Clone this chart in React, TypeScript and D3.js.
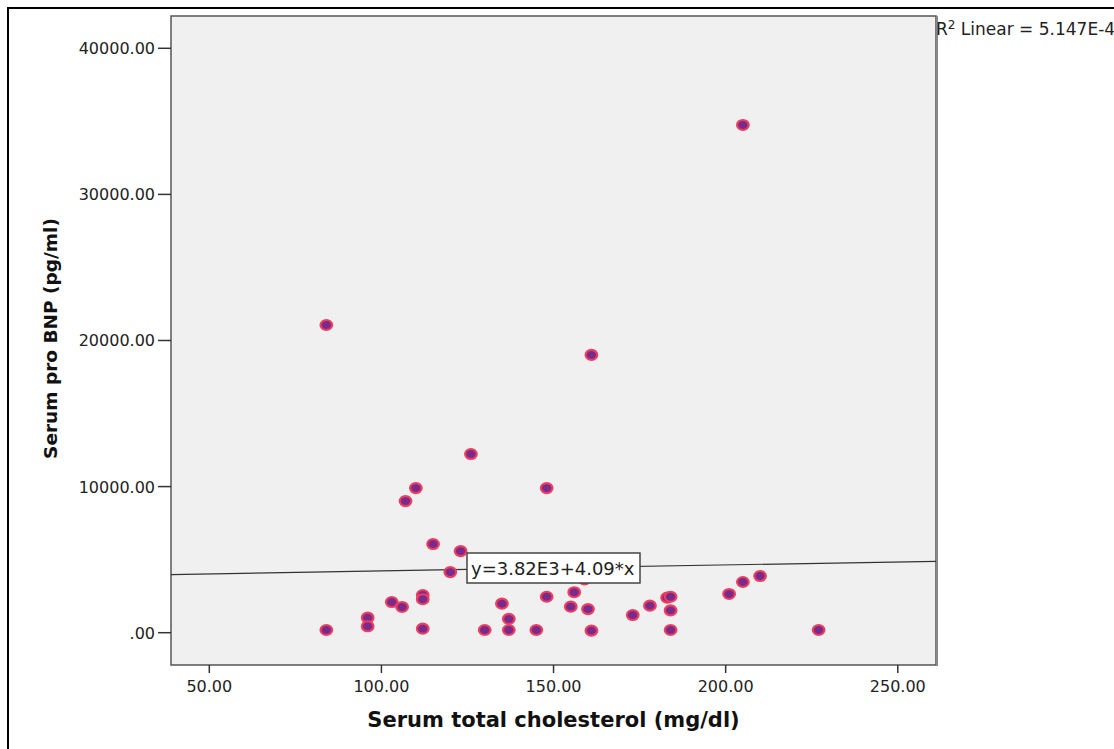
import React from "react";
import * as d3 from "d3";

const cholesterol = [205, 84, 161, 126, 110, 148, 107, 115, 123, 120, 103, 106, 112, 112, 96, 96, 84, 112, 135, 137, 130, 137, 145, 148, 156, 159, 155, 160, 161, 173, 178, 183, 184, 184, 184, 201, 205, 210, 227];
const proBNP = [34750, 21060, 19010, 12230, 9900, 9900, 9010, 6070, 5590, 4150, 2100, 1760, 2580, 2290, 1030, 440, 185, 275, 1985, 940, 185, 185, 185, 2460, 2770, 3650, 1780, 1620, 140, 1210, 1850, 2400, 2460, 1530, 185, 2650, 3470, 3880, 185];
const xTicks = [50, 100, 150, 200, 250];
const yTicks = [0, 10000, 20000, 30000, 40000];
const intercept = 3820;
const slope = 4.09;
const equationLabel = "y=3.82E3+4.09*x";
const xTitle = "Serum total cholesterol (mg/dl)";
const yTitle = "Serum pro BNP (pg/ml)";

const W = 1114, H = 749;
const L = 171, R = 936, T = 16, B = 665;

const fmt = (v: number) => (v === 0 ? ".00" : v.toFixed(2));

export default function App() {
  const x = d3.scaleLinear().domain([38.87, 261.1]).range([L, R]);
  const y = d3.scaleLinear().domain([-2211, 42210]).range([B, T]);
  const [x0, x1] = x.domain();
  const lineGen = d3.line<number>().x((d) => x(d)).y((d) => y(intercept + slope * d));
  const font = "'DejaVu Sans', sans-serif";
  return (
    <svg width={W} height={H} style={{ position: "absolute", left: 0, top: 0, background: "#fff" }}>
      <rect x={8} y={8} width={1300} height={900} fill="#fff" stroke="#000" strokeWidth={2} />
      <rect x={L} y={T} width={R - L} height={B - T} fill="#f0f0f0" stroke="#555" strokeWidth={1.5} />
      <line x1={R + 1} x2={R + 1} y1={T} y2={B + 1} stroke="#888" strokeWidth={2} />
      {yTicks.map((t) => (
        <g key={"y" + t}>
          <line x1={L - 13} x2={L} y1={y(t)} y2={y(t)} stroke="#333" strokeWidth={1.5} />
          <text x={155} y={y(t) + 6} textAnchor="end" fontFamily={font} fontSize={16} fill="#222">
            {fmt(t)}
          </text>
        </g>
      ))}
      {xTicks.map((t) => (
        <g key={"x" + t}>
          <line x1={x(t)} x2={x(t)} y1={B} y2={B + 8} stroke="#333" strokeWidth={1.5} />
          <text x={x(t)} y={692} textAnchor="middle" fontFamily={font} fontSize={16} fill="#222">
            {fmt(t)}
          </text>
        </g>
      ))}
      <path d={lineGen([x0, x1]) || ""} fill="none" stroke="#333" strokeWidth={1.2} />
      {cholesterol.map((c, i) => (
        <ellipse key={i} cx={x(c)} cy={y(proBNP[i])} rx={5.8} ry={5} fill="#7b2a8c" stroke="#ec3e5e" strokeWidth={2.2} />
      ))}
      <rect x={467} y={553} width={173} height={30} fill="#fff" stroke="#444" strokeWidth={1.5} />
      <text x={471} y={575} fontFamily={font} fontSize={18} fill="#222">
        {equationLabel}
      </text>
      <text x={936} y={35} fontFamily={font} fontSize={17} fill="#222">
        R<tspan dy={-6} fontSize={12}>2</tspan>
        <tspan dy={6}> Linear = 5.147E-4</tspan>
      </text>
      <text x={(L + R) / 2} y={727} textAnchor="middle" fontFamily={font} fontWeight="bold" fontSize={21} fill="#111">
        {xTitle}
      </text>
      <text
        transform={`translate(57, ${(T + B) / 2 - 2}) rotate(-90)`}
        textAnchor="middle"
        fontFamily={font}
        fontWeight="bold"
        fontSize={18.5}
        fill="#111"
      >
        {yTitle}
      </text>
    </svg>
  );
}
